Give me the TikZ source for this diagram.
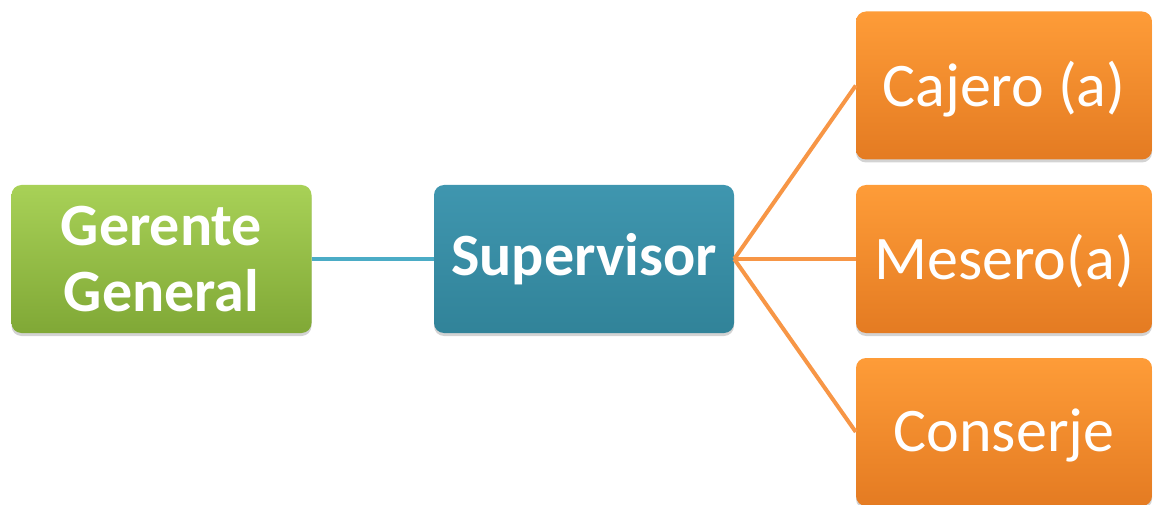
\documentclass[tikz,border=0pt]{standalone}
\usepackage{fontspec}
\setmainfont{Carlito}
\usetikzlibrary{shadows}

\definecolor{greenTop}{HTML}{A8D157}
\definecolor{greenBot}{HTML}{80A836}
\definecolor{tealTop}{HTML}{3F96AF}
\definecolor{tealBot}{HTML}{318399}
\definecolor{orangeTop}{HTML}{FE9C38}
\definecolor{orangeBot}{HTML}{E47B22}
\definecolor{tealLine}{HTML}{4BACC6}
\definecolor{orangeLine}{HTML}{F79646}

\begin{document}
\begin{tikzpicture}[x=1pt,y=1pt,
  box/.style={rectangle,rounded corners=10pt,minimum width=300pt,minimum height=148pt,inner sep=0pt,
    text=white,align=center,drop shadow={opacity=0.35,shadow xshift=0pt,shadow yshift=-3pt}},
  green box/.style={box,top color=greenTop,bottom color=greenBot,font=\fontsize{60}{66}\selectfont\bfseries},
  teal box/.style={box,top color=tealTop,bottom color=tealBot,font=\fontsize{60}{66}\selectfont\bfseries},
  orange box/.style={box,minimum width=296pt,top color=orangeTop,bottom color=orangeBot,
    font=\fontsize{62}{70}\selectfont,text depth=4pt}]

  \useasboundingbox (0,0) rectangle (1153,504);

  \node[green box] at (161.5, 245) (gerente) {Gerente\\General};
  \node[teal box] at (584, 245) (sup) {Supervisor};
  \node[orange box] at (1004, 418.5) (cajero) {Cajero (a)};
  \node[orange box] at (1004, 245) (mesero) {Mesero(a)};
  \node[orange box] at (1004, 72) (conserje) {Conserje};

  \path[tealLine, line width=4pt] (gerente) edge (sup);
  \path[orangeLine, line width=4pt] (sup.east) edge (cajero.west);
  \path[orangeLine, line width=4pt] (sup.east) edge (mesero.west);
  \path[orangeLine, line width=4pt] (sup.east) edge (conserje.west);
\end{tikzpicture}
\end{document}
